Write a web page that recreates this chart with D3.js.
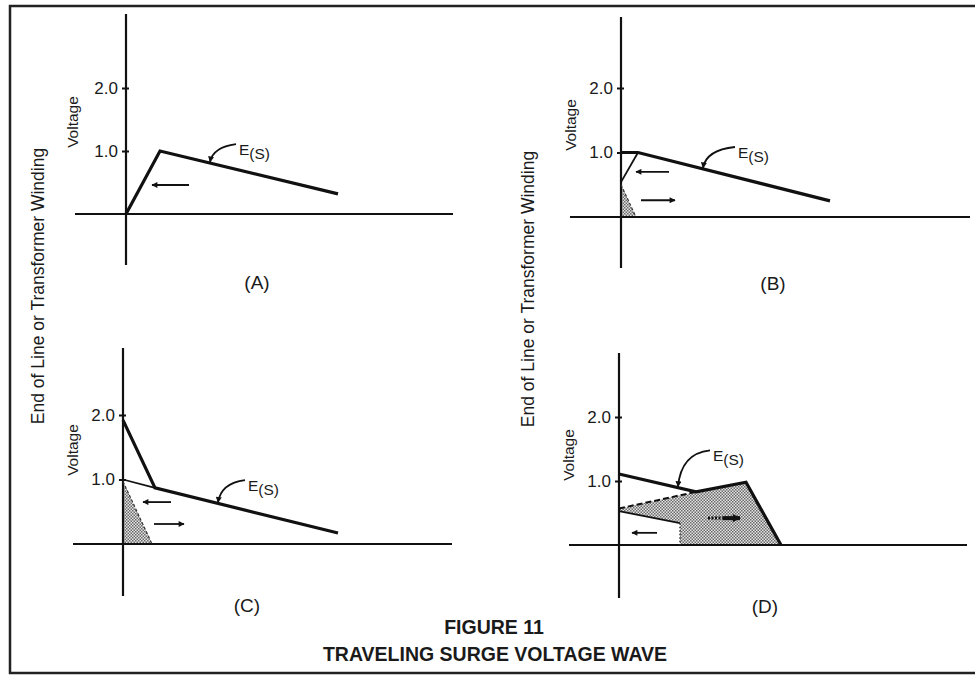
<!DOCTYPE html>
<html>
<head>
<meta charset="utf-8">
<script src="https://cdn.jsdelivr.net/npm/d3@7"></script>
<style>
  body { margin: 0; background: #fff; }
  svg { display: block; }
  text { font-family: "Liberation Sans", Arial, Helvetica, sans-serif; fill: #1a1a1a; }
</style>
</head>
<body>
<script>
// ---- values (x: distance along the line, y: voltage in per-unit) ----
const panelIds = ["A", "B", "C", "D"];
const yTickValues = [1.0, 2.0];

// incident surge E(S) and the reflected components
const surgeA   = [[0, 0], [1.7, 1.0], [10.6, 0.32]];
const surgeB   = [[0, 1.0], [0.85, 1.0], [10.45, 0.25]];
const reflectB = [[0.85, 1.0], [0, 0.54]];
const shadeB   = [[0, 0.5], [0, 0], [0.75, 0]];
const surgeC   = [[0, 1.92], [1.6, 0.87], [10.75, 0.17]];
const reflectC = [[0, 1.0], [1.6, 0.87]];
const shadeC   = [[0, 0.97], [0, 0], [1.45, 0]];
const surgeD   = [[0, 1.11], [3.85, 0.83], [6.35, 0.98], [8.1, 0]];
const frontD   = [[0, 0.57], [3.85, 0.83]];
const tailD    = [[0, 0.53], [3.05, 0.34]];
const stepD    = [[3.05, 0.34], [3.05, 0]];
const shadeD   = [[0, 0.57], [3.85, 0.83], [6.35, 0.98], [8.1, 0], [3.05, 0], [3.05, 0.34], [0, 0.53]];

// travel-direction arrows: [tail x, head x, y]
const arrowsA = [[3.15, 1.3, 0.46]];
const arrowsB = [[2.4, 0.75, 0.7], [1.0, 2.7, 0.26]];
const arrowsC = [[2.4, 1.0, 0.65], [1.55, 3.05, 0.31]];
const arrowsD = [[1.9, 0.65, 0.19]];
const boldArrowD = [[4.45, 6.05, 0.42]];

// E(S) leader: [x on wave, y on wave, label x, label y]
const leaderA = [4.2, 0.81, 5.5, 1.11];
const leaderB = [4.1, 0.746, 5.7, 1.085];
const leaderC = [4.75, 0.629, 6.1, 0.99];
const leaderD = [2.95, 0.895, 4.55, 1.48];

const sideLabel = "End of Line or Transformer Winding";
const titleLines = ["FIGURE 11", "TRAVELING SURGE VOLTAGE WAVE"];

// ---- layout of the four small plots ----
const layout = {
  A: { ox: 126, oy: 214, ky: 63,   top: 14,  bottom: 265, left: 75,  right: 453, volt: [72, 122],  letter: [257, 289] },
  B: { ox: 621, oy: 217, ky: 64.5, top: 17,  bottom: 268, left: 570, right: 970, volt: [570, 125], letter: [773, 290] },
  C: { ox: 123, oy: 544, ky: 64.5, top: 348, bottom: 596, left: 73,  right: 452, volt: [72, 450],  letter: [247, 612] },
  D: { ox: 619, oy: 545, ky: 64,   top: 353, bottom: 598, left: 569, right: 967, volt: [568, 455], letter: [765, 613] }
};
const pxPerX = 20;

const content = {
  A: { surge: surgeA, thin: [], dashed: [], dotted: [], shade: [], arrows: arrowsA, bold: [], leader: leaderA },
  B: { surge: surgeB, thin: [reflectB], dashed: [], dotted: [], shade: [shadeB], arrows: arrowsB, bold: [], leader: leaderB },
  C: { surge: surgeC, thin: [reflectC], dashed: [], dotted: [], shade: [shadeC], arrows: arrowsC, bold: [], leader: leaderC },
  D: { surge: surgeD, thin: [tailD], dashed: [frontD], dotted: [stepD], shade: [shadeD], arrows: arrowsD, bold: boldArrowD, leader: leaderD }
};

const W = 975, H = 677;
const svg = d3.select("body").append("svg").attr("width", W).attr("height", H);
const defs = svg.append("defs");

// stipple fill
const pat = defs.append("pattern").attr("id", "stipple")
  .attr("patternUnits", "userSpaceOnUse").attr("width", 3).attr("height", 3);
pat.append("rect").attr("width", 3).attr("height", 3).attr("fill", "#e4e4e4");
pat.append("rect").attr("x", 0).attr("y", 0).attr("width", 1.5).attr("height", 1.5).attr("fill", "#6a6a6a");
pat.append("rect").attr("x", 1.5).attr("y", 1.5).attr("width", 1.5).attr("height", 1.5).attr("fill", "#6a6a6a");

// arrowheads
defs.append("marker").attr("id", "head").attr("viewBox", "0 0 10 10")
  .attr("refX", 9).attr("refY", 5).attr("markerWidth", 9).attr("markerHeight", 6)
  .attr("markerUnits", "userSpaceOnUse").attr("orient", "auto")
  .append("path").attr("d", "M0,0 L10,5 L0,10 Z").attr("fill", "#111");
defs.append("marker").attr("id", "headBold").attr("viewBox", "0 0 10 10")
  .attr("refX", 9).attr("refY", 5).attr("markerWidth", 12).attr("markerHeight", 8)
  .attr("markerUnits", "userSpaceOnUse").attr("orient", "auto")
  .append("path").attr("d", "M0,0 L10,5 L0,10 Z").attr("fill", "#111");
defs.append("marker").attr("id", "leadHead").attr("viewBox", "0 0 10 10")
  .attr("refX", 9).attr("refY", 5).attr("markerWidth", 7).attr("markerHeight", 6)
  .attr("markerUnits", "userSpaceOnUse").attr("orient", "auto")
  .append("path").attr("d", "M0,0 L10,5 L0,10 Z").attr("fill", "#111");

// outer frame
svg.append("rect").attr("x", 10).attr("y", 6).attr("width", 1000).attr("height", 667)
  .attr("fill", "none").attr("stroke", "#222").attr("stroke-width", 2.5);

// side captions
[[38, 286], [528, 289]].forEach(([cx, cy]) => {
  svg.append("text").attr("transform", `translate(${cx},${cy}) rotate(-90)`)
    .attr("text-anchor", "middle").attr("dominant-baseline", "central")
    .style("font-size", "17.5px").text(sideLabel);
});

panelIds.forEach(id => {
  const L = layout[id], C = content[id];
  const x = d3.scaleLinear().domain([0, 1]).range([L.ox, L.ox + pxPerX]);
  const y = d3.scaleLinear().domain([0, 1]).range([L.oy, L.oy - L.ky]);
  const g = svg.append("g");
  const line = d3.line().x(d => x(d[0])).y(d => y(d[1]));

  // shaded regions
  C.shade.forEach(s => g.append("path").attr("d", line(s) + "Z")
    .attr("fill", "url(#stipple)").attr("stroke", "none"));

  // axes
  g.append("line").attr("x1", L.left).attr("x2", L.right).attr("y1", L.oy).attr("y2", L.oy)
    .attr("stroke", "#111").attr("stroke-width", 2.2);
  g.append("line").attr("x1", L.ox).attr("x2", L.ox).attr("y1", L.top).attr("y2", L.bottom)
    .attr("stroke", "#111").attr("stroke-width", 2.2);

  const ax = g.append("g").attr("transform", `translate(${L.ox},0)`)
    .call(d3.axisLeft(y).tickValues(yTickValues).tickFormat(d3.format(".1f"))
      .tickSizeInner(4).tickSizeOuter(0).tickPadding(4));
  ax.select(".domain").remove();
  ax.selectAll(".tick line").attr("x2", 3).attr("x1", -4).attr("stroke", "#111").attr("stroke-width", 2);
  ax.selectAll(".tick text").style("font-size", "17px").style("font-family", "Liberation Sans, Arial, sans-serif")
    .attr("fill", "#1a1a1a");

  // reflected / component lines
  C.thin.forEach(s => g.append("path").attr("d", line(s)).attr("fill", "none")
    .attr("stroke", "#111").attr("stroke-width", 1.8));
  C.dashed.forEach(s => g.append("path").attr("d", line(s)).attr("fill", "none")
    .attr("stroke", "#111").attr("stroke-width", 2).attr("stroke-dasharray", "6,3"));
  C.dotted.forEach(s => g.append("path").attr("d", line(s)).attr("fill", "none")
    .attr("stroke", "#333").attr("stroke-width", 1.5).attr("stroke-dasharray", "1.5,2"));
  if (id === "B" || id === "C") {
    const sh = C.shade[0];
    g.append("path").attr("d", line([sh[0], sh[2]])).attr("fill", "none")
      .attr("stroke", "#333").attr("stroke-width", 1.2).attr("stroke-dasharray", "3,2");
  }

  // incident surge
  g.append("path").attr("d", line(C.surge)).attr("fill", "none")
    .attr("stroke", "#111").attr("stroke-width", 3.2).attr("stroke-linejoin", "miter");

  // direction arrows
  C.arrows.forEach(([x0, x1, yy]) => g.append("line")
    .attr("x1", x(x0)).attr("x2", x(x1)).attr("y1", y(yy)).attr("y2", y(yy))
    .attr("stroke", "#111").attr("stroke-width", 1.8).attr("marker-end", "url(#head)"));
  C.bold.forEach(([x0, x1, yy]) => {
    const mid = x0 + (x1 - x0) * 0.45;
    g.append("line").attr("x1", x(x0)).attr("x2", x(mid)).attr("y1", y(yy)).attr("y2", y(yy))
      .attr("stroke", "#111").attr("stroke-width", 3).attr("stroke-dasharray", "2,1.5");
    g.append("line").attr("x1", x(mid)).attr("x2", x(x1)).attr("y1", y(yy)).attr("y2", y(yy))
      .attr("stroke", "#111").attr("stroke-width", 4).attr("marker-end", "url(#headBold)");
  });

  // E(S) leader and label
  const [wx, wy, lx, ly] = C.leader;
  const p0 = [x(lx), y(ly)], p1 = [x(wx), y(wy)];
  const path = d3.path();
  path.moveTo(p0[0], p0[1]);
  path.quadraticCurveTo(p1[0] + 3, p0[1] + 3, p1[0], p1[1] - 1);
  g.append("path").attr("d", path.toString()).attr("fill", "none")
    .attr("stroke", "#111").attr("stroke-width", 1.8).attr("marker-end", "url(#leadHead)");
  const lab = g.append("text").attr("x", p0[0] + 3).attr("y", p0[1] + 11).style("font-size", "15.5px");
  lab.append("tspan").text("E");
  lab.append("tspan").attr("dy", 4).text("(S)");

  // "Voltage" caption
  g.append("text").attr("transform", `translate(${L.volt[0]},${L.volt[1]}) rotate(-90)`)
    .attr("text-anchor", "middle").attr("dominant-baseline", "central")
    .style("font-size", "15.5px").text("Voltage");

  // panel letter
  g.append("text").attr("x", L.letter[0]).attr("y", L.letter[1]).attr("text-anchor", "middle")
    .style("font-size", "19px").text(`(${id})`);
});

// figure title
svg.append("text").attr("x", 494).attr("y", 634).attr("text-anchor", "middle")
  .style("font-size", "19.5px").style("font-weight", "bold").text(titleLines[0]);
svg.append("text").attr("x", 495).attr("y", 661).attr("text-anchor", "middle")
  .style("font-size", "19.5px").style("font-weight", "bold").text(titleLines[1]);
</script>
</body>
</html>
